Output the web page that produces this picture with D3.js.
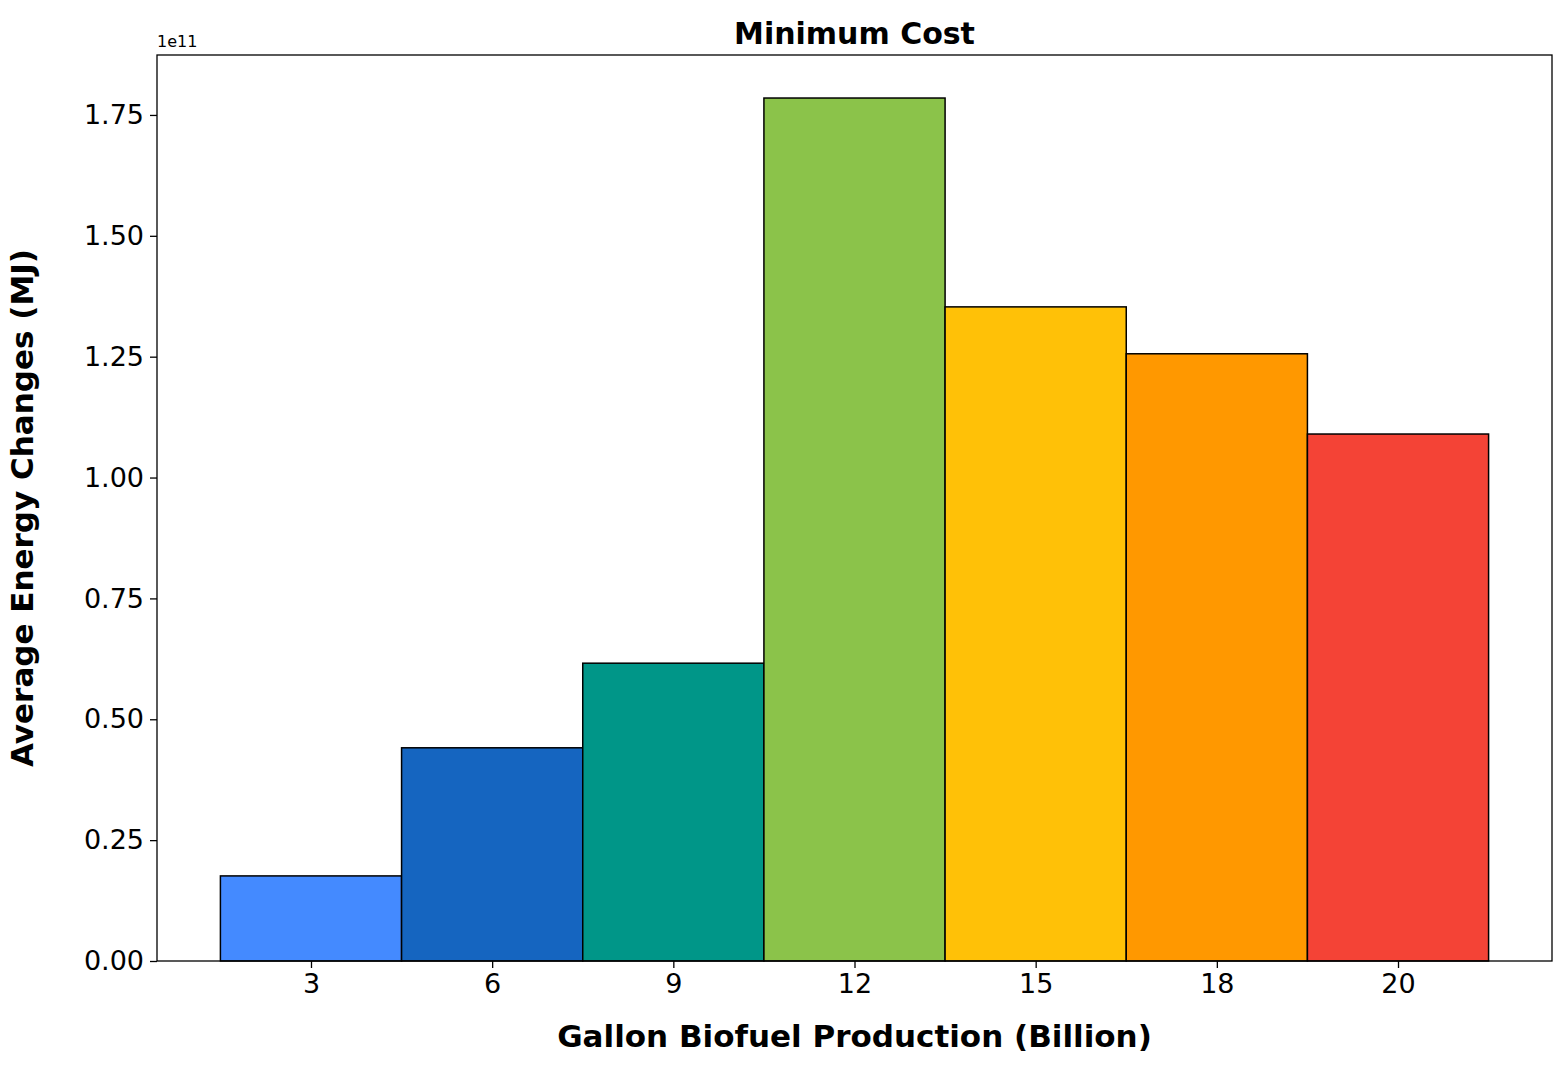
<!DOCTYPE html>
<html>
<head>
<meta charset="utf-8">
<script src="https://cdn.jsdelivr.net/npm/d3@7"></script>
<style>
  body { margin: 0; background: #fff; }
  text { font-family: "DejaVu Sans", sans-serif; }
</style>
</head>
<body>
<div id="chart"></div>
<script>
// data (values in units of 1e11 MJ)
var categories = ['3', '6', '9', '12', '15', '18', '20'];
var values = [0.176, 0.441, 0.616, 1.785, 1.353, 1.256, 1.090];
var colors = ['#448AFF', '#1565C0', '#009688', '#8BC34A', '#FFC107', '#FF9800', '#F44336'];
var yTicks = [0, 0.25, 0.5, 0.75, 1.0, 1.25, 1.5, 1.75];

var svgWidth = 1567;
var svgHeight = 1071;
var margin = { top: 55, right: 15, bottom: 110, left: 157 };
var width = svgWidth - margin.left - margin.right;
var height = svgHeight - margin.top - margin.bottom;

var svg = d3.select('#chart').append('svg')
  .attr('width', svgWidth)
  .attr('height', svgHeight);

var chartGroup = svg.append('g')
  .attr('transform', `translate(${margin.left}, ${margin.top})`);

var x = d3.scaleLinear().domain([-0.85, categories.length - 1 + 0.85]).range([0, width]);
var y = d3.scaleLinear().domain([0, 1.874]).range([height, 0]);

// bars
chartGroup.selectAll('rect.bar')
  .data(values)
  .enter()
  .append('rect')
  .attr('class', 'bar')
  .attr('x', (d, i) => x(i - 0.5))
  .attr('width', x(1) - x(0))
  .attr('y', (d) => y(d))
  .attr('height', (d) => y(0) - y(d))
  .attr('fill', (d, i) => colors[i])
  .attr('stroke', '#000')
  .attr('stroke-width', 1.5);

// axes
var bottomAxis = d3.axisBottom(x)
  .tickValues(d3.range(categories.length))
  .tickFormat((d) => categories[d])
  .tickSize(7).tickPadding(6);
var leftAxis = d3.axisLeft(y)
  .tickValues(yTicks)
  .tickFormat(d3.format('.2f'))
  .tickSize(7).tickPadding(6);

var xAxis = chartGroup.append('g')
  .attr('transform', `translate(0, ${height})`)
  .call(bottomAxis);
var yAxis = chartGroup.append('g').call(leftAxis);

[xAxis, yAxis].forEach(function (a) {
  a.select('.domain').remove();
  a.selectAll('line').attr('stroke', '#000').attr('stroke-width', 1.3);
  a.selectAll('text').attr('font-size', 27).attr('fill', '#000')
    .style('font-family', '"DejaVu Sans", sans-serif');
});

// frame
chartGroup.append('rect')
  .attr('width', width).attr('height', height)
  .attr('fill', 'none').attr('stroke', '#000').attr('stroke-width', 1.3);

// labels
chartGroup.append('text')
  .attr('x', width / 2).attr('y', -11)
  .attr('text-anchor', 'middle')
  .attr('font-size', 30).attr('font-weight', 'bold')
  .text('Minimum Cost');

chartGroup.append('text')
  .attr('x', 0).attr('y', -8)
  .attr('font-size', 16)
  .text('1e11');

chartGroup.append('text')
  .attr('x', width / 2).attr('y', height + 86)
  .attr('text-anchor', 'middle')
  .attr('font-size', 31).attr('font-weight', 'bold')
  .text('Gallon Biofuel Production (Billion)');

chartGroup.append('text')
  .attr('transform', 'rotate(-90)')
  .attr('x', -height / 2).attr('y', -124)
  .attr('text-anchor', 'middle')
  .attr('font-size', 31).attr('font-weight', 'bold')
  .text('Average Energy Changes (MJ)');
</script>
</body>
</html>
